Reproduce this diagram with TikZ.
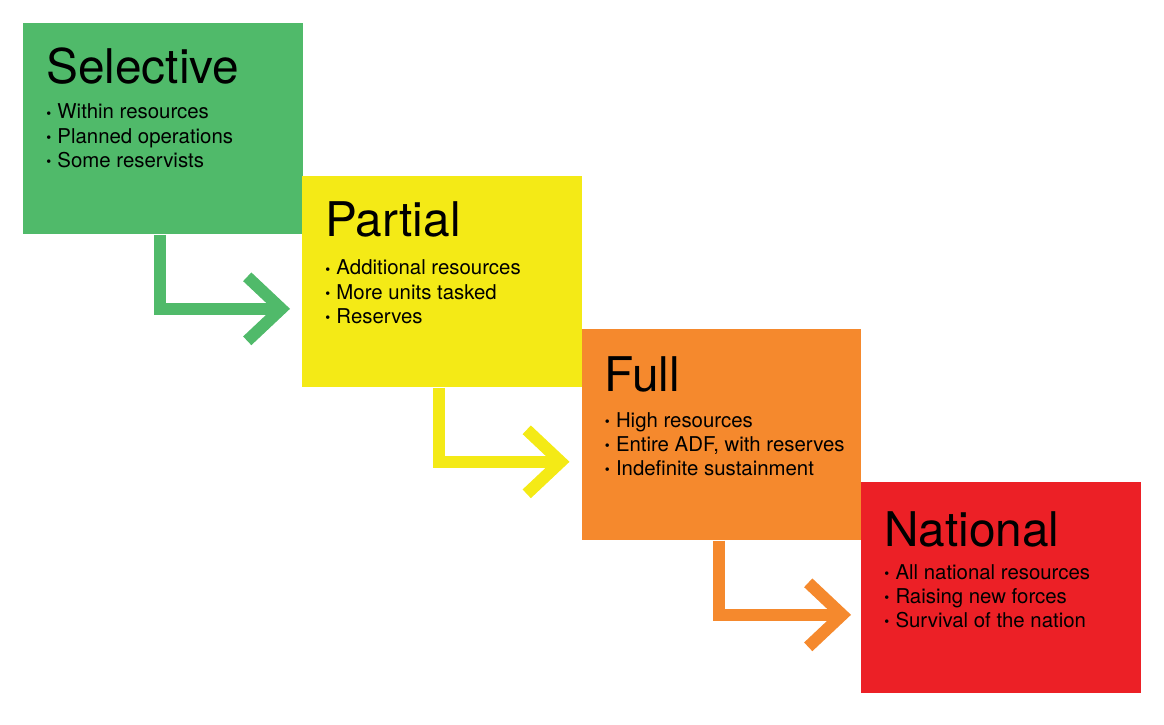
\documentclass[tikz,border=0pt]{standalone}
\usepackage{fontspec}
\setmainfont{TeX Gyre Heros}
\usetikzlibrary{arrows.meta}

\definecolor{selgreen}{RGB}{80,186,106}
\definecolor{paryellow}{RGB}{244,234,22}
\definecolor{fullorange}{RGB}{245,137,45}
\definecolor{natred}{RGB}{236,32,38}

% small bullet in front of each line
\newcommand{\stagedot}{\makebox[0.55em][l]{\raisebox{0.6pt}{\fontsize{10}{10}\selectfont •}}}

\tikzset{
  stagebox/.style={fill=#1, draw=none, anchor=north west, inner sep=0pt,
    minimum width=6.99cm, minimum height=5.275cm},
  stagetitle/.style={anchor=base west, inner sep=0pt, font=\fontsize{34}{40}\selectfont},
  % anchored at the baseline of the last line
  stagelist/.style={anchor=base west, inner sep=0pt, align=left,
    font=\fontsize{14.5}{17.07}\selectfont},
  flow/.style={draw=#1, line width=0.3cm, line join=miter,
    -{Straight Barb[length=0.85cm, width=1.6cm]}}
}

\begin{document}
\begin{tikzpicture}[x=0.025cm, y=-0.025cm]
\useasboundingbox (0,0) rectangle (1164,724);

% the four stages
\node[stagebox=selgreen] (sel) at (23,23) {};
\node[stagebox=paryellow] (par) at (302,176) {};
\node[stagebox=fullorange] (full) at (581.5,329) {};
\node[stagebox=natred] (nat) at (861,482) {};

\node[stagetitle] (selT) at ([shift={(23,60.5)}]sel.north west) {Selective};
\node[stagelist] (selL) at ([shift={(23,144)}]sel.north west)
  {\stagedot Within resources\\\stagedot Planned operations\\\stagedot Some reservists};

\node[stagetitle] (parT) at ([shift={(23,60)}]par.north west) {Partial};
\node[stagelist] (parL) at ([shift={(23,147)}]par.north west)
  {\stagedot Additional resources\\\stagedot More units tasked\\\stagedot Reserves};

\node[stagetitle] (fullT) at ([shift={(23,62.5)}]full.north west) {Full};
\node[stagelist] (fullL) at ([shift={(23,146)}]full.north west)
  {\stagedot High resources\\\stagedot Entire ADF, with reserves\\\stagedot Indefinite sustainment};

\node[stagetitle] (natT) at ([shift={(23,64)}]nat.north west) {National};
\node[stagelist] (natL) at ([shift={(23,145)}]nat.north west)
  {\stagedot All national resources\\\stagedot Raising new forces\\\stagedot Survival of the nation};

% steps down
\draw[flow=selgreen] ([shift={(137,0)}]sel.south west) |- ([shift={(-12,27)}]par.west);
\draw[flow=paryellow] ([shift={(137,0)}]par.south west) |- ([shift={(-12,27)}]full.west);
\draw[flow=fullorange] ([shift={(137,0)}]full.south west) |- ([shift={(-10,27)}]nat.west);
\end{tikzpicture}
\end{document}
